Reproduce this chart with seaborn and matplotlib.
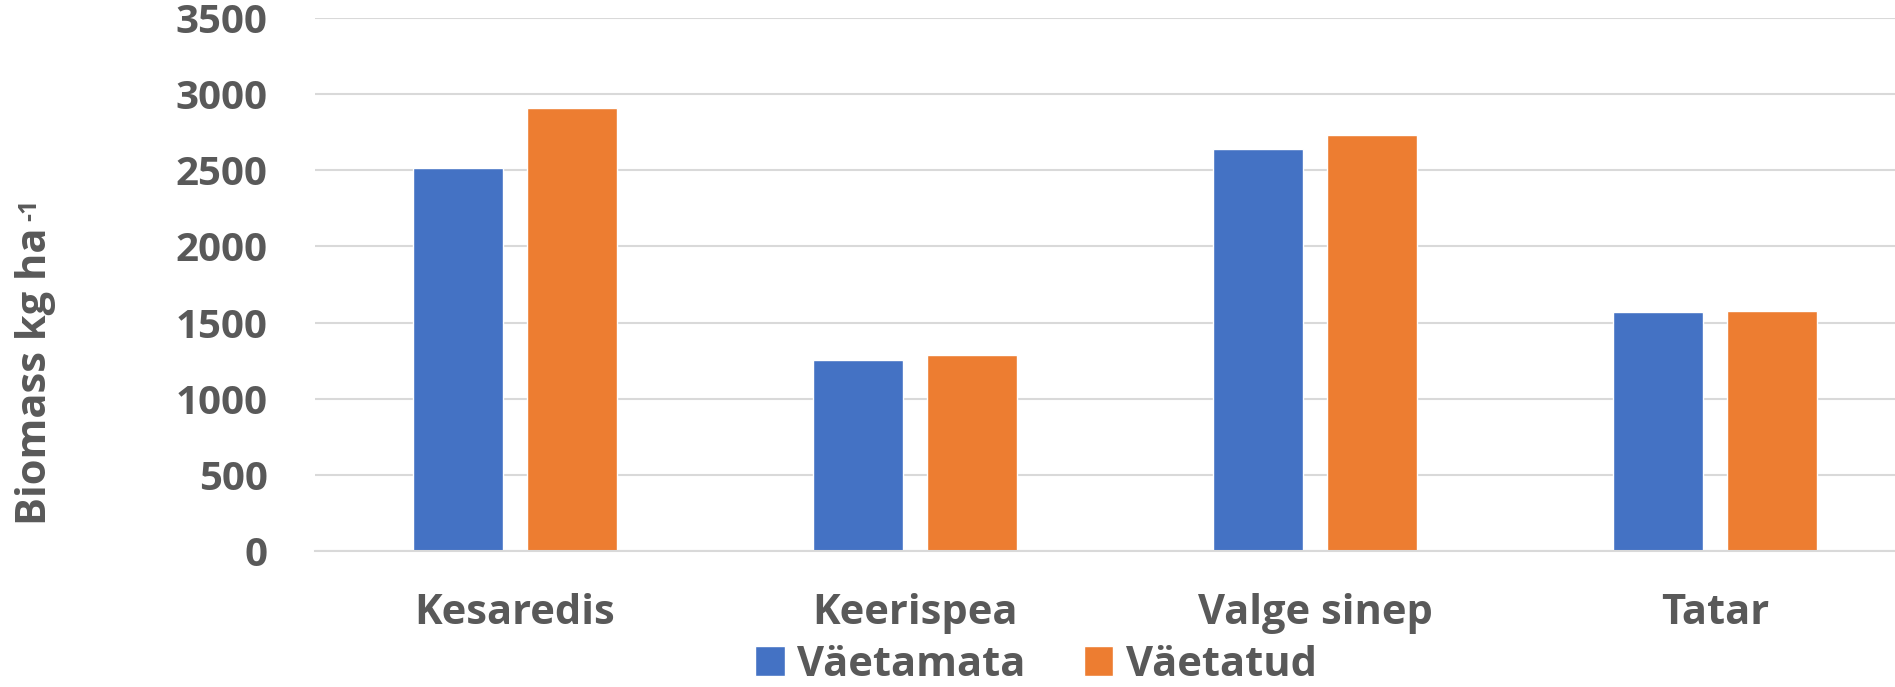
import matplotlib
matplotlib.use("Agg")
import matplotlib.pyplot as plt
import seaborn as sns
import pandas as pd

# Cover crop biomass, unfertilised vs fertilised
crops = ["Kesaredis", "Keerispea", "Valge sinep", "Tatar"]
vaetamata = [2513, 1252, 2640, 1568]
vaetatud = [2912, 1290, 2732, 1578]
series_names = ["Väetamata", "Väetatud"]
yticks = [0, 500, 1000, 1500, 2000, 2500, 3000, 3500]

df = pd.DataFrame({
    "crop": crops * 2,
    "value": vaetamata + vaetatud,
    "treatment": [series_names[0]] * len(crops) + [series_names[1]] * len(crops),
})

sns.set_theme(style="white")
plt.rcParams["font.family"] = ["Open Sans", "DejaVu Sans"]
text_color = "#595959"
grid_color = "#d9d9d9"

fig = plt.figure(figsize=(18.95, 6.87), dpi=100)
W, H = 1895, 687
# plot area runs past the right edge of the canvas
left, right, top, bottom = 315, 1915, 18, 551
ax = fig.add_axes([left / W, 1 - bottom / H, (right - left) / W, (bottom - top) / H])

sns.barplot(data=df, x="crop", y="value", hue="treatment", order=crops,
            hue_order=series_names, palette=["#4472C4", "#ED7D31"],
            width=0.568, gap=0.213, saturation=1, ax=ax, legend=True)

ax.set_ylim(0, 3500)
ax.set_xlim(-0.5, len(crops) - 0.5)
ax.set_yticks(yticks)
ax.set_yticklabels([str(t) for t in yticks])
ax.yaxis.grid(True, color=grid_color, lw=1.5)
ax.set_axisbelow(True)
for s in ["top", "right", "left"]:
    ax.spines[s].set_visible(False)
ax.spines["bottom"].set_color(grid_color)
ax.spines["bottom"].set_linewidth(1.5)
ax.tick_params(axis="both", length=0)
ax.tick_params(axis="y", pad=34, labelsize=29, labelcolor=text_color)
ax.tick_params(axis="x", pad=30, labelsize=30, labelcolor=text_color)
for lab in ax.get_yticklabels() + ax.get_xticklabels():
    lab.set_fontweight("bold")

ax.set_xlabel("")
ax.set_ylabel("")
# axis title with a raised "-1" exponent
fig.text(36 / W, 1 - 525 / H, "Biomass kg ha", rotation=90, ha="center",
         va="bottom", fontsize=30, fontweight="bold", color=text_color)
fig.text(30 / W, 1 - 221 / H, "-1", rotation=90, ha="center",
         va="bottom", fontsize=18, fontweight="bold", color=text_color)

handles, labels = ax.get_legend_handles_labels()
ax.legend_.remove()
fig.legend(handles, labels, loc="center", bbox_to_anchor=(1036 / W, 1 - 665 / H),
           ncol=2, frameon=False, handlelength=0.7, handleheight=0.7,
           handletextpad=0.3, columnspacing=1.4,
           prop={"weight": "bold", "size": 30})
for t in fig.legends[0].get_texts():
    t.set_color(text_color)

fig.savefig("out.png", dpi=100)
